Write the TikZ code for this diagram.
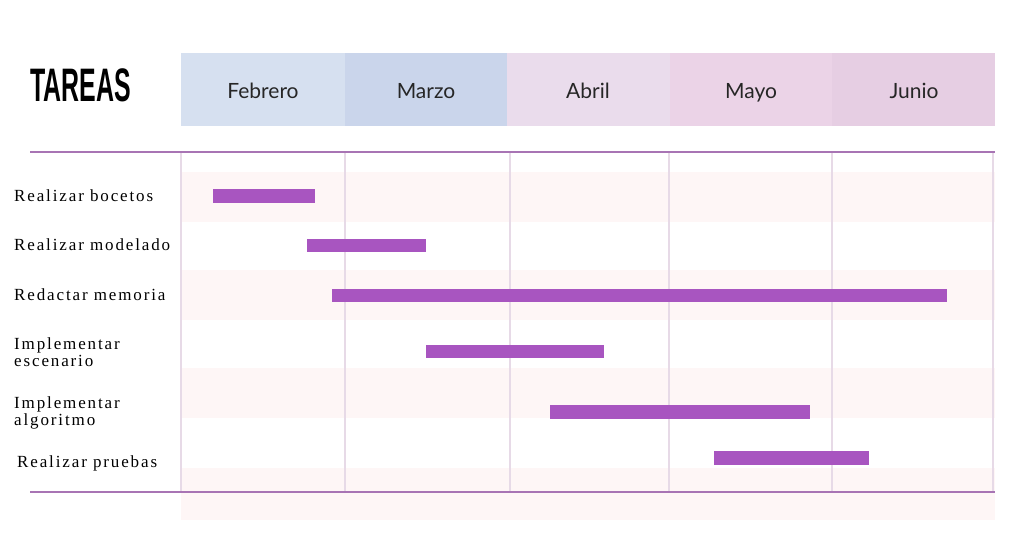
\documentclass[tikz,border=0pt]{standalone}
\usepackage{fontspec}
\setmainfont{Liberation Serif}
\newfontfamily\monthfont{Lato}
\newfontfamily\titlefont{Liberation Sans}
\newfontfamily\taskfont[LetterSpace=11]{Liberation Serif}
\definecolor{febc}{HTML}{D6E0F0}
\definecolor{marc}{HTML}{CAD5EB}
\definecolor{abrc}{HTML}{EADCEC}
\definecolor{mayc}{HTML}{EBD3E7}
\definecolor{junc}{HTML}{E6CEE3}
\definecolor{bandc}{HTML}{FEF6F6}
\definecolor{gridc}{HTML}{E7DAE7}
\definecolor{rulec}{HTML}{A874B4}
\definecolor{barc}{HTML}{A855C0}
\tikzset{
  month/.style={font=\monthfont\fontsize{21}{24}\selectfont, text=black!85, text height=15pt, text depth=5pt},
  task/.style={font=\taskfont\fontsize{17}{16.5}\selectfont, anchor=west, align=left, inner sep=0pt},
  bar/.style={fill=barc, draw=none},
  band/.style={fill=bandc, draw=none},
  grid/.style={draw=gridc, line width=2.5pt},
  rule/.style={draw=rulec, line width=1.6pt},
}
\begin{document}
\begin{tikzpicture}[x=1pt,y=-1pt]
\useasboundingbox (0,0) rectangle (1023,542);
\fill[white] (0,0) rectangle (1023,542);
% header
\fill[febc] (181,53) rectangle (345,126);
\fill[marc] (345,53) rectangle (507,126);
\fill[abrc] (507,53) rectangle (670,126);
\fill[mayc] (670,53) rectangle (832,126);
\fill[junc] (832,53) rectangle (995,126);
\node[month] (feb) at (263,93) {Febrero};
\node[month] (mar) at (426,93) {Marzo};
\node[month] (abr) at (588,93) {Abril};
\node[month] (may) at (751,93) {Mayo};
\node[month] (jun) at (914,93) {Junio};
\node[inner sep=0pt, anchor=west] (tareas) at (30,85) {\scalebox{0.53}[1]{\titlefont\bfseries\fontsize{47}{50}\selectfont TAREAS}};
% bands
\fill[band] (181,172) rectangle (995,222);
\fill[band] (181,270) rectangle (995,320);
\fill[band] (181,368) rectangle (995,418);
\fill[band] (181,468) rectangle (995,520);
% grid
\foreach \x in {181,345,510,669,832,993} \draw[grid] (\x,152) -- (\x,492);
\draw[rule] (30,152) -- (995,152);
\draw[rule] (30,492) -- (995,492);
% bars
\fill[bar] (213,189) rectangle (315,203);
\fill[bar] (307,239) rectangle (426,252);
\fill[bar] (332,289) rectangle (947,302);
\fill[bar] (426,345) rectangle (604,358);
\fill[bar] (550,405) rectangle (810,419);
\fill[bar] (714,451) rectangle (869,465);
% labels
\node[task] (t1) at (14,196) {Realizar bocetos};
\node[task] (t2) at (14,245) {Realizar modelado};
\node[task] (t3) at (14,295) {Redactar memoria};
\node[task] (t4) at (14,352) {Implementar\\escenario};
\node[task] (t5) at (14,413) {Implementar\\algoritmo};
\node[task] (t6) at (17,463) {Realizar pruebas};
\end{tikzpicture}
\end{document}
